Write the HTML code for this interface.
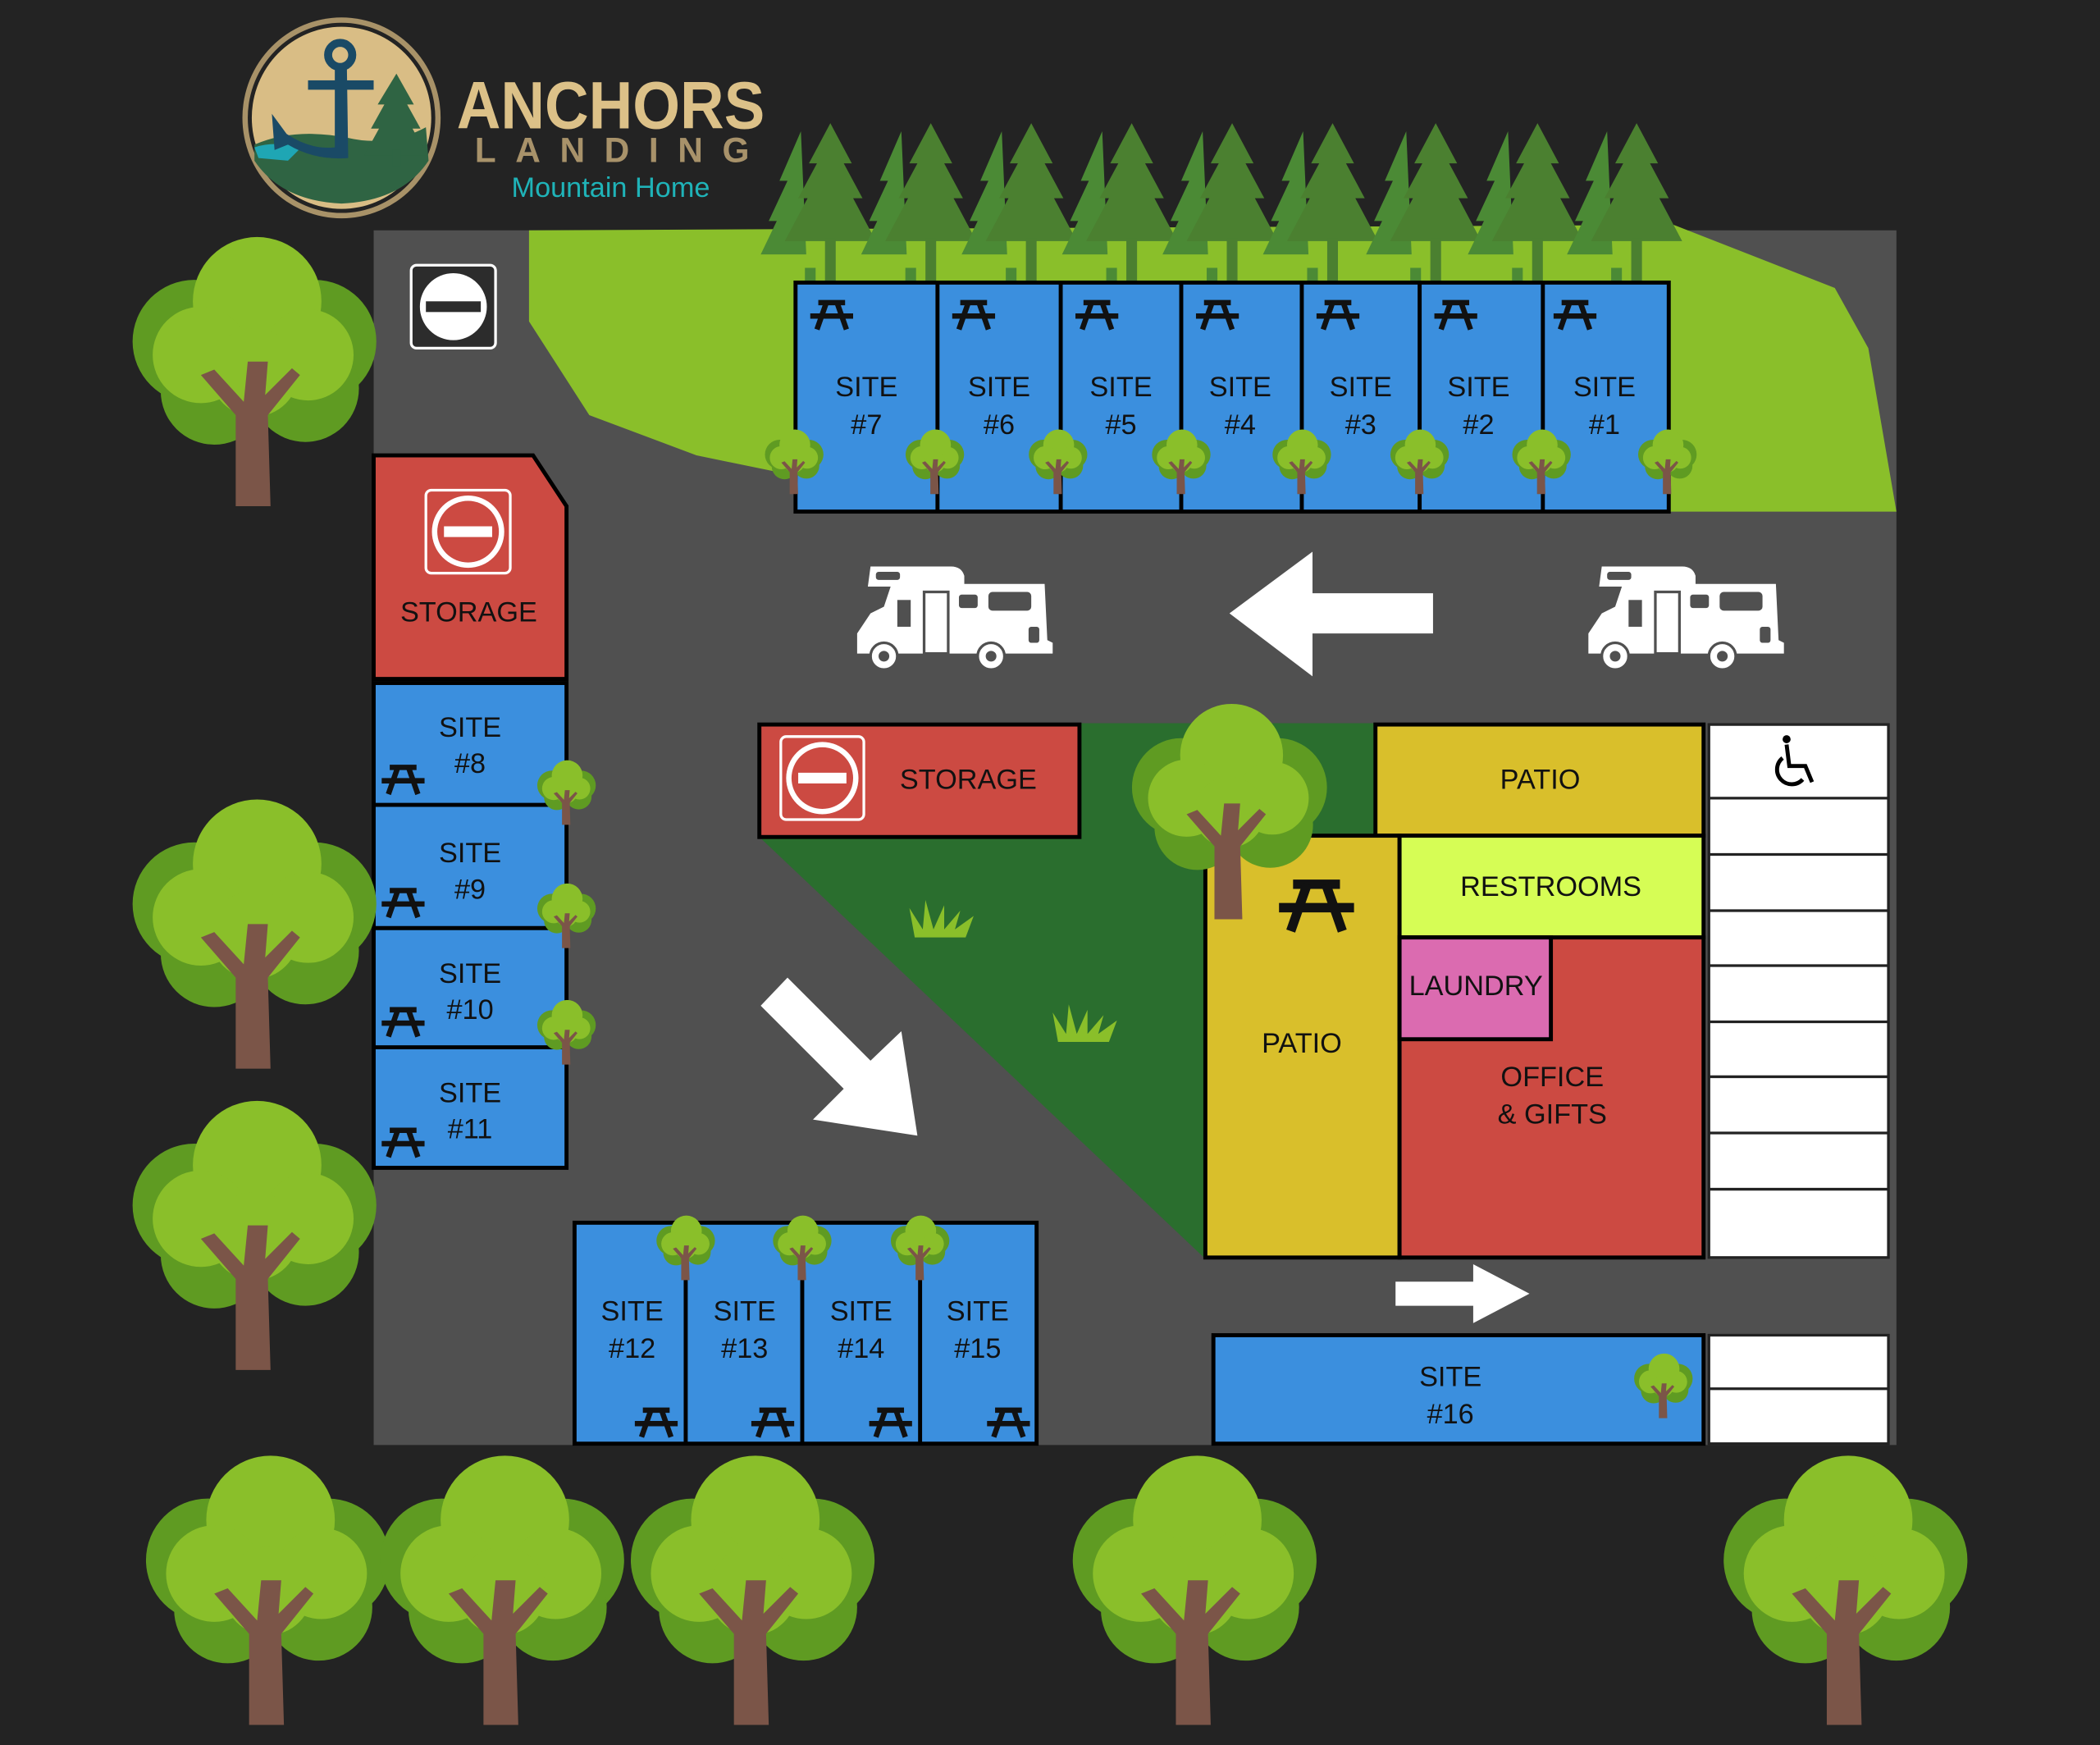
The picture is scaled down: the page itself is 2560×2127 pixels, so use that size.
<!DOCTYPE html>
<html><head><meta charset="utf-8"><style>
html,body{margin:0;padding:0;background:#232323;}
svg{display:block}
text{font-family:"Liberation Sans",sans-serif;}
</style></head><body>
<svg width="2560" height="2127" viewBox="0 0 1568 1303" preserveAspectRatio="none" xmlns="http://www.w3.org/2000/svg">
<defs>
<g id="bt">
 <circle cx="-45" cy="-15" r="46" fill="#5f9b22"/>
 <circle cx="45" cy="-15" r="46" fill="#5f9b22"/>
 <circle cx="-30" cy="22" r="40" fill="#5f9b22"/>
 <circle cx="38" cy="20" r="40" fill="#5f9b22"/>
 <circle cx="2" cy="-45" r="48" fill="#8abf2a"/>
 <circle cx="-40" cy="-5" r="36" fill="#8abf2a"/>
 <circle cx="40" cy="-5" r="34" fill="#8abf2a"/>
 <circle cx="0" cy="8" r="33" fill="#8abf2a"/>
 <path d="M-14,108 L-14,40 L-40,10 L-30,6 L-8,30 L-5,0 L10,0 L8,25 L28,5 L34,10 L10,40 L12,108 Z" fill="#7b5548"/>
</g>
<g id="st"><use href="#bt" transform="scale(0.24)"/></g>
<g id="pt" stroke="#111" stroke-width="4" fill="none">
 <line x1="-10" y1="-9" x2="10" y2="-9"/><line x1="-16" y1="1" x2="16" y2="1"/>
 <line x1="-4" y1="-9" x2="-11" y2="11"/><line x1="4" y1="-9" x2="11" y2="11"/>
</g>
<g id="pine">
 <path d="M-22,-92 L-38,-55 L-32,-55 L-46,-25 L-40,-25 L-52,0 L-18,0 Z" fill="#4b8a35"/>
 <rect x="-19" y="10" width="8" height="10" fill="#4b8a35"/>
 <path d="M0,-98 L-16,-68 L-10,-68 L-24,-42 L-17,-42 L-34,-10 L34,-10 L17,-42 L24,-42 L10,-68 L16,-68 Z" fill="#4b8030"/>
 <rect x="-4" y="-12" width="8" height="34" fill="#4b8030"/>
</g>
<g id="noent"><circle r="27" fill="#fff"/><circle r="23" fill="#cc4a42"/><rect x="-18" y="-4" width="36" height="8" fill="#fff"/></g>
<g id="rv" fill="#fff">
 <path d="M10,5 L70,5 Q78,5 80,12 L80,18 L140,18 L142,60 L146,62 L146,70 L0,70 L0,55 L10,40 L20,35 L25,20 L8,20 Z"/>
 <g fill="#505050"><rect x="14" y="9" width="18" height="6" rx="2"/><rect x="30" y="30" width="10" height="20"/><rect x="50" y="24" width="18" height="46" fill="none" stroke="#505050" stroke-width="2"/><rect x="76" y="26" width="14" height="10" rx="2"/><rect x="98" y="24" width="32" height="14" rx="3"/><rect x="128" y="50" width="8" height="12" rx="2"/></g>
 <circle cx="20" cy="72" r="10" fill="#fff" stroke="#505050" stroke-width="2"/><circle cx="20" cy="72" r="4" fill="#505050"/>
 <circle cx="100" cy="72" r="10" fill="#fff" stroke="#505050" stroke-width="2"/><circle cx="100" cy="72" r="4" fill="#505050"/>
</g>
<g id="grass" fill="#8abf2a"><path d="M0,22 L-4,0 L6,16 L8,-6 L14,16 L22,-2 L22,16 L34,2 L30,16 L44,6 L38,22 Z"/></g>
</defs>
<rect width="1568" height="1303" fill="#232323"/>
<rect x="279" y="172" width="1137" height="907" fill="#505050"/>
<path d="M395,172 L1250,168 L1370,215 L1395,260 L1416,382 L593,382 L593,355 L520,340 L440,310 L395,240 Z" fill="#8abf2a"/>
<path d="M567,540 L1027,540 L1027,625 L900,625 L900,940 L567,625 Z" fill="#2a6e2e"/>
<g>
<use href="#pine" x="620" y="190"/><use href="#pine" x="695" y="190"/><use href="#pine" x="770" y="190"/><use href="#pine" x="845" y="190"/><use href="#pine" x="920" y="190"/><use href="#pine" x="995" y="190"/><use href="#pine" x="1072" y="190"/><use href="#pine" x="1148" y="190"/><use href="#pine" x="1222" y="190"/>
</g>
<g stroke="#000" stroke-width="3" fill="#3b8fde">
<rect x="594" y="211" width="652" height="171"/>
<line x1="700" y1="211" x2="700" y2="382"/><line x1="792" y1="211" x2="792" y2="382"/><line x1="882" y1="211" x2="882" y2="382"/><line x1="972" y1="211" x2="972" y2="382"/><line x1="1060" y1="211" x2="1060" y2="382"/><line x1="1152" y1="211" x2="1152" y2="382"/>
</g>
<g font-size="21" text-anchor="middle" fill="#111">
<text x="647" y="296">SITE</text><text x="647" y="324">#7</text>
<text x="746" y="296">SITE</text><text x="746" y="324">#6</text>
<text x="837" y="296">SITE</text><text x="837" y="324">#5</text>
<text x="926" y="296">SITE</text><text x="926" y="324">#4</text>
<text x="1016" y="296">SITE</text><text x="1016" y="324">#3</text>
<text x="1104" y="296">SITE</text><text x="1104" y="324">#2</text>
<text x="1198" y="296">SITE</text><text x="1198" y="324">#1</text>
</g>
<use href="#pt" x="621" y="235"/><use href="#pt" x="727" y="235"/><use href="#pt" x="819" y="235"/><use href="#pt" x="909" y="235"/><use href="#pt" x="999" y="235"/><use href="#pt" x="1087" y="235"/><use href="#pt" x="1176" y="235"/>
<use href="#st" x="593" y="343"/><use href="#st" x="698" y="343"/><use href="#st" x="790" y="343"/><use href="#st" x="882" y="343"/><use href="#st" x="972" y="343"/><use href="#st" x="1060" y="343"/><use href="#st" x="1151" y="343"/><use href="#st" x="1245" y="343"/>
<rect x="307" y="198" width="63" height="62" rx="4" fill="#2c2c2c" stroke="#fff" stroke-width="2"/>
<circle cx="338.5" cy="229" r="25" fill="#fff"/><rect x="318" y="225" width="41" height="8" fill="#2c2c2c"/>
<path d="M279,340 L398,340 L423,378 L423,507 L279,507 Z" fill="#cc4a42" stroke="#000" stroke-width="3"/>
<rect x="318" y="366" width="63" height="62" rx="4" fill="#cc4a42" stroke="#fff" stroke-width="2"/>
<use href="#noent" x="349.5" y="397"/>
<text x="350" y="464" font-size="21" text-anchor="middle" fill="#111">STORAGE</text>
<g stroke="#000" stroke-width="3" fill="#3b8fde">
<rect x="279" y="510" width="144" height="362"/>
<line x1="279" y1="601" x2="423" y2="601"/><line x1="279" y1="693" x2="423" y2="693"/><line x1="279" y1="782" x2="423" y2="782"/>
</g>
<g font-size="21" text-anchor="middle" fill="#111">
<text x="351" y="550">SITE</text><text x="351" y="577">#8</text>
<text x="351" y="644">SITE</text><text x="351" y="671">#9</text>
<text x="351" y="734">SITE</text><text x="351" y="761">#10</text>
<text x="351" y="823">SITE</text><text x="351" y="850">#11</text>
</g>
<use href="#pt" x="301" y="582"/><use href="#pt" x="301" y="674"/><use href="#pt" x="301" y="763"/><use href="#pt" x="301" y="853"/>
<use href="#st" x="423" y="590"/><use href="#st" x="423" y="682"/><use href="#st" x="423" y="769"/>
<rect x="567" y="541" width="239" height="84" fill="#cc4a42" stroke="#000" stroke-width="3"/>
<rect x="583" y="550" width="62" height="62" rx="4" fill="#cc4a42" stroke="#fff" stroke-width="2"/>
<use href="#noent" x="614" y="581"/>
<text x="723" y="589" font-size="21" text-anchor="middle" fill="#111">STORAGE</text>
<use href="#grass" x="683" y="678"/><use href="#grass" x="790" y="756"/>
<g stroke="#000" stroke-width="3">
<rect x="1027" y="541" width="245" height="83" fill="#d9bf2b"/>
<rect x="900" y="624" width="145" height="315" fill="#d9bf2b"/>
<rect x="1045" y="624" width="227" height="76" fill="#d6fd55"/>
<rect x="1045" y="700" width="227" height="239" fill="#cc4a42"/>
<rect x="1045" y="700" width="113" height="76" fill="#db6bb0"/>
</g>
<use href="#pt" transform="translate(983,676) scale(1.75)"/>
<g font-size="21" text-anchor="middle" fill="#111">
<text x="1150" y="589">PATIO</text>
<text x="1158" y="669">RESTROOMS</text>
<text x="1102" y="743">LAUNDRY</text>
<text x="972" y="786">PATIO</text>
<text x="1159" y="811">OFFICE</text><text x="1159" y="839">&amp; GIFTS</text>
</g>
<use href="#bt" transform="translate(918,600) scale(0.8)"/>
<g fill="#fff" stroke="#222" stroke-width="2">
<rect x="1276" y="541" width="134" height="398"/>
<line x1="1276" y1="596" x2="1410" y2="596"/><line x1="1276" y1="638" x2="1410" y2="638"/><line x1="1276" y1="680" x2="1410" y2="680"/><line x1="1276" y1="721" x2="1410" y2="721"/><line x1="1276" y1="763" x2="1410" y2="763"/><line x1="1276" y1="804" x2="1410" y2="804"/><line x1="1276" y1="846" x2="1410" y2="846"/><line x1="1276" y1="888" x2="1410" y2="888"/>
<rect x="1276" y="997" width="134" height="81"/>
<line x1="1276" y1="1037" x2="1410" y2="1037"/>
</g>
<g stroke="#000" stroke-width="3" fill="none"><path d="M1334,556 L1336,572 L1348,572 L1353,584"/><path d="M1331,566 A11,11 0 1 0 1346,582"/></g>
<circle cx="1334" cy="552" r="3" fill="#000"/>
<rect x="906" y="997" width="366" height="81" fill="#3b8fde" stroke="#000" stroke-width="3"/>
<text x="1083" y="1035" font-size="21" text-anchor="middle" fill="#111">SITE</text><text x="1083" y="1063" font-size="21" text-anchor="middle" fill="#111">#16</text>
<use href="#st" x="1242" y="1033"/>
<g stroke="#000" stroke-width="3" fill="#3b8fde">
<rect x="429" y="913" width="345" height="165"/>
<line x1="512" y1="913" x2="512" y2="1078"/><line x1="599" y1="913" x2="599" y2="1078"/><line x1="687" y1="913" x2="687" y2="1078"/>
</g>
<g font-size="21" text-anchor="middle" fill="#111">
<text x="472" y="986">SITE</text><text x="472" y="1014">#12</text>
<text x="556" y="986">SITE</text><text x="556" y="1014">#13</text>
<text x="643" y="986">SITE</text><text x="643" y="1014">#14</text>
<text x="730" y="986">SITE</text><text x="730" y="1014">#15</text>
</g>
<use href="#pt" x="490" y="1062"/><use href="#pt" x="577" y="1062"/><use href="#pt" x="665" y="1062"/><use href="#pt" x="753" y="1062"/>
<use href="#st" x="512" y="930"/><use href="#st" x="599" y="930"/><use href="#st" x="687" y="930"/>
<path d="M918,458 L980,412 L980,443 L1070,443 L1070,473 L980,473 L980,505 Z" fill="#fff"/>
<path d="M1042,957 L1100,957 L1100,944 L1142,966 L1100,988 L1100,975 L1042,975 Z" fill="#fff"/>
<path d="M588,730 L650,792 L673,770 L685,848 L607,836 L630,813 L568,751 Z" fill="#fff"/>
<use href="#rv" x="640" y="418"/><use href="#rv" x="1186" y="418"/>
<use href="#bt" x="190" y="270"/><use href="#bt" x="190" y="690"/><use href="#bt" x="190" y="915"/>
<use href="#bt" x="200" y="1180"/><use href="#bt" x="375" y="1180"/><use href="#bt" x="562" y="1180"/><use href="#bt" x="892" y="1180"/><use href="#bt" x="1378" y="1180"/>
<ellipse cx="255" cy="88" rx="74" ry="75" fill="#a89268"/>
<ellipse cx="255" cy="88" rx="70" ry="71" fill="#232323"/>
<ellipse cx="255" cy="88" rx="67" ry="68" fill="#d9bd85"/>
<path d="M190,108 Q220,95 260,103 Q290,110 318,95 L320,120 Q300,150 255,152 Q210,150 190,120 Z" fill="#2f6443"/>
<path d="M190,110 Q205,105 225,110 L215,120 L193,118 Z" fill="#1fa6b4"/>
<circle cx="254" cy="41" r="9" fill="none" stroke="#1a4a66" stroke-width="6"/>
<rect x="230" y="60" width="49" height="7" fill="#1a4a66"/>
<path d="M250,50 L259,50 L260,118 Q235,120 215,108 L205,112 L203,85 L214,100 Q232,112 250,110 Z" fill="#1a4a66"/>
<path d="M296,55 L282,78 L287,78 L277,96 L283,96 L272,116 L319,116 L308,96 L314,96 L304,78 L309,78 Z" fill="#2f6443"/>
<rect x="293" y="112" width="6" height="12" fill="#2f6443"/>
<text x="456" y="96" font-size="50" font-weight="bold" text-anchor="middle" fill="#dcc188" textLength="230" lengthAdjust="spacingAndGlyphs">ANCHORS</text>
<text x="457" y="121" font-size="26" font-weight="bold" text-anchor="middle" fill="#a8926a" textLength="205" lengthAdjust="spacing">LANDING</text>
<text x="456" y="147" font-size="21" text-anchor="middle" fill="#1fb3b8">Mountain Home</text>
</svg>
</body></html>
